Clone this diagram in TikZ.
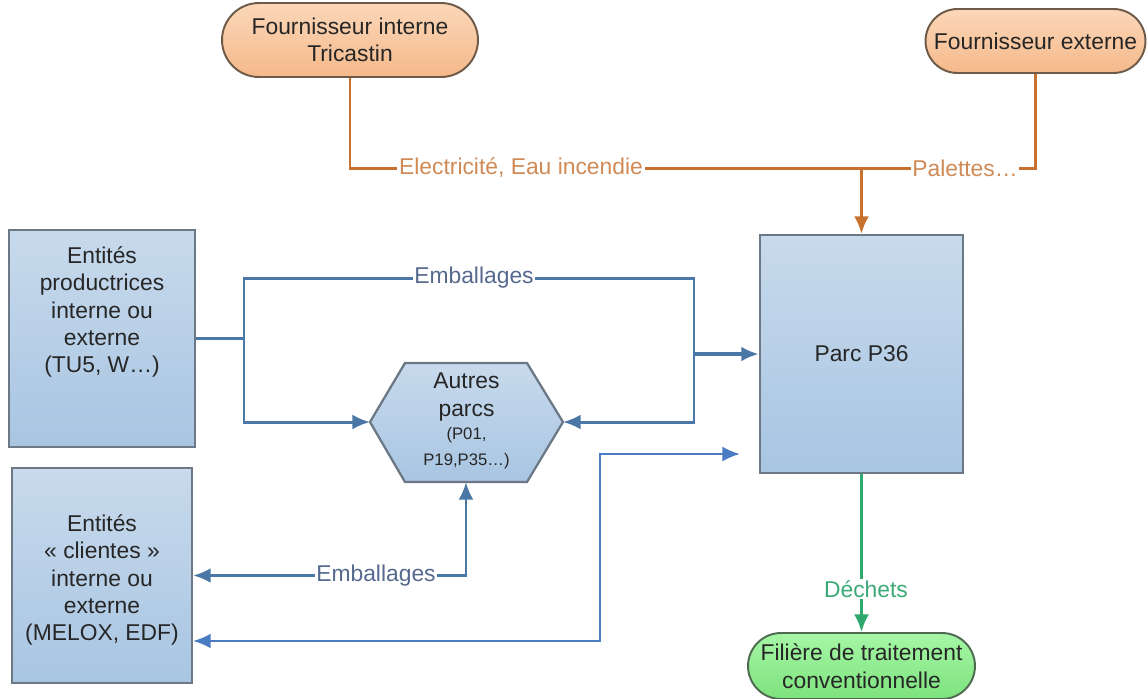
\documentclass[tikz,border=0pt]{standalone}
\usepackage{fontspec}
\setmainfont{Liberation Sans}
\usepackage{tikz}
\usetikzlibrary{shapes.misc,arrows.meta}
\tikzset{>={Latex[length=10pt,width=8.5pt]}}

\definecolor{peachtop}{HTML}{FBD7B9}
\definecolor{peachbot}{HTML}{F5B98A}
\definecolor{peachline}{HTML}{6E5A48}
\definecolor{bluetop}{HTML}{C8DAEC}
\definecolor{bluebot}{HTML}{A8C5E2}
\definecolor{blocline}{HTML}{6C7886}
\definecolor{greentop}{HTML}{A6F7A6}
\definecolor{greenbot}{HTML}{7DE27D}
\definecolor{greenline}{HTML}{4E6A50}
\definecolor{orangeflux}{HTML}{C8702E}
\definecolor{orangetxt}{HTML}{D08A55}
\definecolor{bleu}{HTML}{4A77A6}
\definecolor{bleuvif}{HTML}{4A7CC4}
\definecolor{bleutxt}{HTML}{56698E}
\definecolor{vert}{HTML}{2EA86C}
\definecolor{verttxt}{HTML}{3BAA76}
\definecolor{texte}{HTML}{262626}

\begin{document}
\begin{tikzpicture}[x=0.02cm,y=-0.02cm,
    font=\fontsize{13}{15.6}\selectfont, text=texte,
    pill/.style={rounded rectangle, draw=peachline, line width=1.1pt,
        top color=peachtop, bottom color=peachbot, align=center, inner sep=0pt},
    bloc/.style={rectangle, draw=blocline, line width=1.3pt,
        top color=bluetop, bottom color=bluebot, inner sep=0pt},
    etiq/.style={fill=white, inner sep=1pt},
    orangeline/.style={line width=1.7pt, draw=orangeflux},
    flux/.style={line width=1.7pt, draw=bleu},
    lien/.style={line width=1.3pt, draw=bleuvif},
    dechet/.style={line width=1.7pt, draw=vert}]
\useasboundingbox (0,0) rectangle (1147,698);

% fournisseurs
\node[pill, minimum width=5.12cm, minimum height=1.48cm] (fint) at (350,40) {Fournisseur interne\\Tricastin};
\node[pill, minimum width=4.4cm, minimum height=1.28cm] (fext) at (1035.5,41) {Fournisseur externe};

% blocs
\node[bloc, minimum width=4.06cm, minimum height=4.76cm] (parc) at (861.5,354) {Parc P36};
\node[bloc, minimum width=3.72cm, minimum height=4.34cm] (prod) at (102,338.5) {};
\node[align=center] (prodtxt) at (102,312) {Entités\\productrices\\interne ou\\externe\\(TU5, W…)};
\node[bloc, minimum width=3.6cm, minimum height=4.3cm] (client) at (102,575.5) {};
\node[align=center] (clienttxt) at (102,580) {Entités\\« clientes »\\interne ou\\externe\\(MELOX, EDF)};
\node[pill, draw=greenline, top color=greentop, bottom color=greenbot,
    minimum width=4.54cm, minimum height=1.32cm] (filiere) at (861.5,666) {Filière de traitement\\conventionnelle};

% autres parcs
\coordinate (autresW) at (370,422);
\coordinate (autresE) at (563,422);
\coordinate (autresS) at (466,482);
\draw[draw=blocline, line width=1.3pt, top color=bluetop, bottom color=bluebot]
    (autresW) -- (405,363) -- (527,363) -- (autresE) -- (527,482) -- (405,482) -- cycle;
\node[align=center] (autres) at (466.5,421) {Autres\\parcs\\[-2pt]{\fontsize{9.5}{13}\selectfont (P01,}\\[-1pt]{\fontsize{9.5}{13}\selectfont P19,P35…)}};

% approvisionnements
\coordinate (jo) at (861.5,168);
\draw[orangeline] (fint.south) |- (jo);
\draw[orangeline] (fext.south) |- (jo);
\draw[orangeline,->] (jo) -- (parc.north);
\node[etiq, text=orangetxt] (elec) at (521,168) {Electricité, Eau incendie};
\node[etiq, text=orangetxt] (pal) at (965,168) {Palettes…};

% emballages
\coordinate (ga) at (244,338.5);
\coordinate (hg) at (244,278);
\coordinate (hd) at (694,278);
\coordinate (dr) at (694,354);
\draw[flux] (prod.east) -- (ga);
\draw[flux] (ga) -- (hg) -- (hd) -- (dr);
\draw[flux,->] (ga) |- (autresW);
\draw[flux,->] (dr) |- (autresE);
\draw[flux,->,line width=2.2pt] (dr) -- (parc.west);
\node[etiq, text=bleutxt] (emb1) at (474,278) {Emballages};
\draw[flux,<->] (autresS) |- (client.east);
\node[etiq, text=bleutxt] (emb2) at (376,575.5) {Emballages};

\coordinate (fin) at (740,454);
\coordinate (coude) at (600,454);
\draw[lien,<->] (fin) -- (coude) |- ([yshift=-1.31cm]client.east);

% dechets
\draw[dechet,->] (parc.south) -- (filiere.north);
\node[etiq, text=verttxt] (dech) at (866,589) {Déchets};
\end{tikzpicture}
\end{document}
